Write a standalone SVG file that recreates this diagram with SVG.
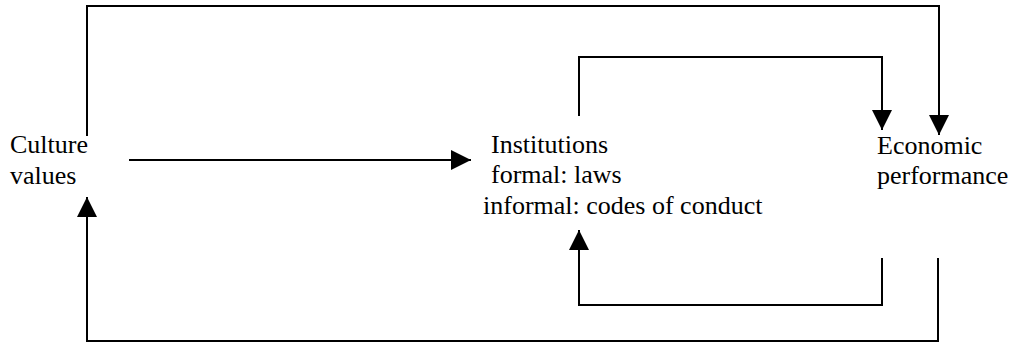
<svg xmlns="http://www.w3.org/2000/svg" width="1016" height="343" viewBox="0 0 1016 343">
<style>
text{font-family:"Liberation Serif","Times New Roman",serif;font-size:26px;fill:#000}
.c{fill:none;stroke:#000;stroke-width:2}
</style>
<defs>
<marker id="ah" viewBox="0 0 20 20" refX="20" refY="10" markerWidth="20" markerHeight="20" markerUnits="userSpaceOnUse" orient="auto">
<path d="M0,0 L20,10 L0,20 z" fill="#000"/>
</marker>
</defs>
<rect width="1016" height="343" fill="#fff"/>
<g id="connectors">
<path class="c" d="M87,136 V6 H939 V135" marker-end="url(#ah)"/>
<path class="c" d="M579,116 V57 H882 V130" marker-end="url(#ah)"/>
<path class="c" d="M129,160 H471" marker-end="url(#ah)"/>
<path class="c" d="M882,258 V305 H579 V230" marker-end="url(#ah)"/>
<path class="c" d="M938,258 V341 H87 V197" marker-end="url(#ah)"/>
</g>
<g id="culture">
<text x="10" y="153">Culture</text>
<text x="10" y="184">values</text>
</g>
<g id="institutions">
<text x="491" y="153">Institutions</text>
<text x="491" y="183">formal: laws</text>
<text x="483" y="214">informal: codes of conduct</text>
</g>
<g id="economic">
<text x="877" y="154">Economic</text>
<text x="877" y="184">performance</text>
</g>
</svg>
